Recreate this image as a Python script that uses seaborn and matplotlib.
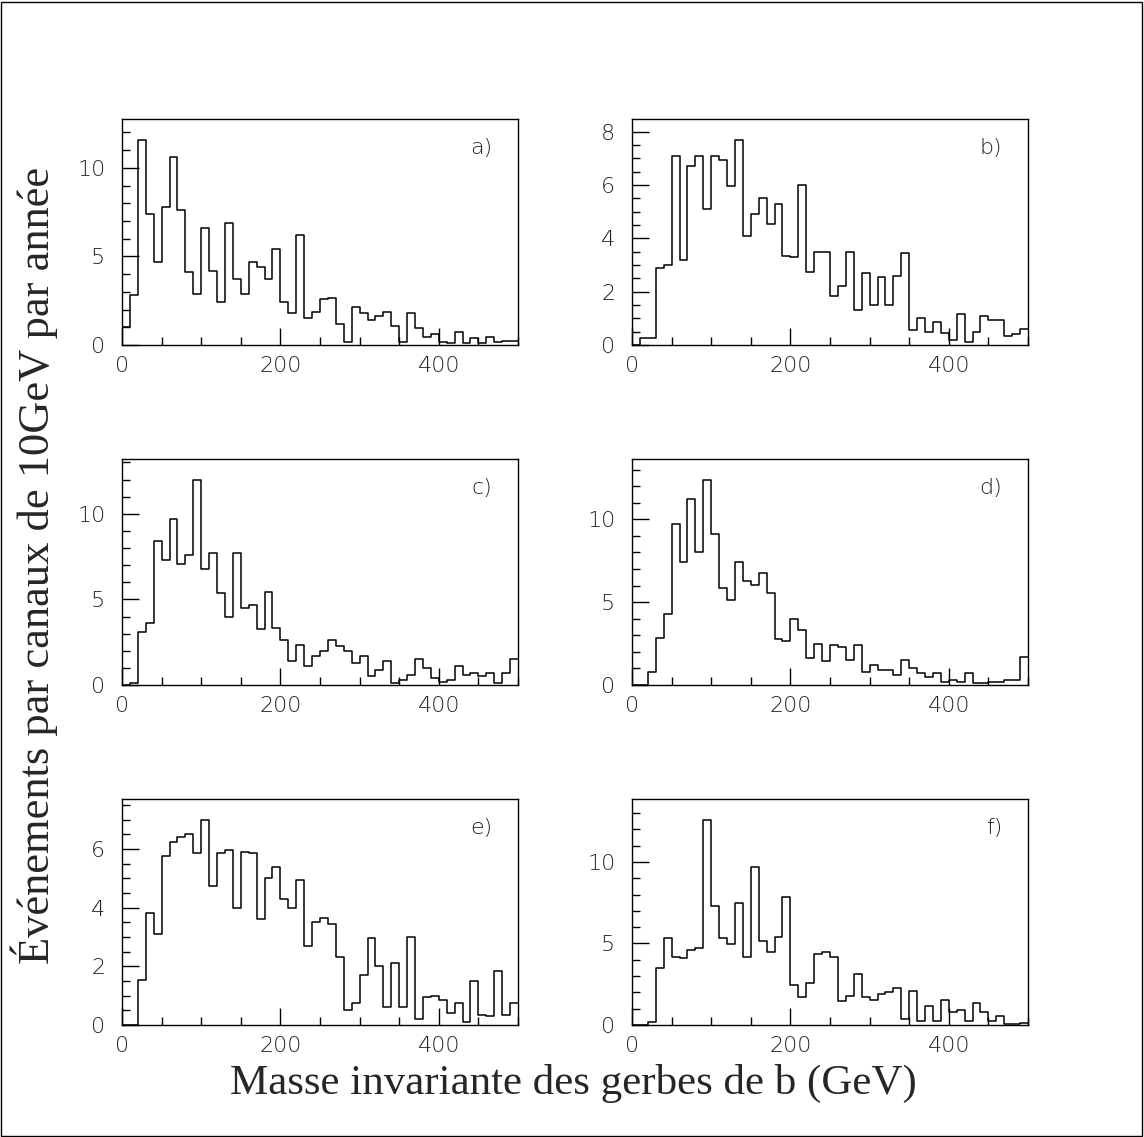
import pandas as pd
import matplotlib
matplotlib.use('Agg')
import matplotlib.pyplot as plt
import seaborn as sns
from matplotlib.patches import Rectangle
from matplotlib.ticker import MultipleLocator

# canaux de 10 GeV entre 0 et 500 GeV
bin_edges = list(range(0, 510, 10))
panel_labels = ['a)', 'b)', 'c)', 'd)', 'e)', 'f)']

hist_a = [1.0, 2.8, 11.6, 7.4, 4.7, 7.8, 10.6, 7.6, 4.1, 2.9,
          6.6, 4.2, 2.4, 6.9, 3.7, 2.9, 4.7, 4.4, 3.7, 5.4,
          2.4, 1.8, 6.2, 1.55, 1.87, 2.6, 2.65, 1.17, 0.15, 2.14,
          1.83, 1.4, 1.63, 1.85, 1.06, 0.15, 1.78, 0.98, 0.43, 0.62,
          0.19, 0.13, 0.76, 0.13, 0.38, 0.1, 0.47, 0.19, 0.25, 0.25]
hist_b = [0.0, 0.26, 0.26, 2.9, 3.0, 7.1, 3.2, 6.7, 7.1, 5.1,
          7.1, 6.95, 5.95, 7.7, 4.1, 4.9, 5.5, 4.55, 5.3, 3.35,
          3.3, 6.0, 2.75, 3.5, 3.5, 1.85, 2.2, 3.5, 1.3, 2.7,
          1.5, 2.55, 1.5, 2.6, 3.45, 0.55, 1.0, 0.5, 0.85, 0.45,
          0.2, 1.15, 0.1, 0.5, 1.1, 0.95, 0.95, 0.35, 0.4, 0.6]
hist_c = [0.0, 0.1, 3.1, 3.6, 8.4, 7.3, 9.7, 7.05, 7.6, 12.0,
          6.8, 7.7, 5.4, 4.0, 7.7, 4.5, 4.7, 3.25, 5.45, 3.35,
          2.6, 1.4, 2.35, 1.1, 1.7, 2.0, 2.6, 2.3, 2.0, 1.3,
          1.7, 0.5, 0.9, 1.4, 0.1, 0.3, 0.6, 1.5, 1.0, 0.4,
          0.2, 0.3, 1.1, 0.6, 0.7, 0.5, 0.7, 0.1, 0.7, 1.5]
hist_d = [0.0, 0.0, 0.77, 2.85, 4.27, 9.7, 7.4, 11.2, 8.0, 12.4,
          9.1, 5.85, 5.15, 7.45, 6.25, 6.05, 6.75, 5.55, 2.75, 2.65,
          4.0, 3.3, 1.65, 2.5, 1.45, 2.4, 2.3, 1.5, 2.4, 0.8,
          1.2, 0.9, 0.9, 0.6, 1.5, 1.0, 0.7, 0.5, 0.7, 0.2,
          0.3, 0.2, 0.7, 0.1, 0.1, 0.2, 0.2, 0.3, 0.3, 1.7]
hist_e = [0.0, 0.0, 1.55, 3.8, 3.1, 5.75, 6.25, 6.4, 6.5, 5.85,
          7.0, 4.75, 5.85, 5.95, 4.0, 5.9, 5.85, 3.6, 5.0, 5.4,
          4.3, 4.0, 4.95, 2.7, 3.5, 3.65, 3.45, 2.3, 0.5, 0.75,
          1.7, 2.95, 2.0, 0.6, 2.1, 0.6, 3.0, 0.2, 0.95, 1.0,
          0.85, 0.4, 0.75, 0.1, 1.5, 0.35, 0.3, 1.85, 0.35, 0.75]
hist_f = [0.0, 0.0, 0.2, 3.5, 5.35, 4.2, 4.1, 4.6, 4.7, 12.6,
          7.3, 5.35, 4.95, 7.5, 4.2, 9.7, 5.15, 4.45, 5.4, 7.85,
          2.45, 1.7, 2.6, 4.35, 4.5, 4.2, 1.45, 1.75, 3.1, 1.7,
          1.55, 1.9, 2.0, 2.25, 0.35, 2.1, 0.25, 1.15, 0.25, 1.55,
          0.8, 0.9, 0.25, 1.35, 0.8, 0.25, 0.55, 0.05, 0.05, 0.15]

histos = [hist_a, hist_b, hist_c, hist_d, hist_e, hist_f]
y_major = [5, 2, 5, 5, 2, 5]
y_minor = [1, 0.5, 1, 1, 0.5, 1]

sns.set_style('ticks')
plt.rcParams['font.family'] = ['DejaVu Sans']
plt.rcParams['font.weight'] = 'light'

W, H = 1144, 1137
fig = plt.figure(figsize=(W / 100, H / 100), dpi=100)

lefts = [122, 632]
tops = [119, 459, 799]
pw, ph = 396, 226

for i, vals in enumerate(histos):
    row, col = divmod(i, 2)
    ax = fig.add_axes([lefts[col] / W, 1 - (tops[row] + ph) / H, pw / W, ph / H])
    df = pd.DataFrame({'masse': [e + 5 for e in bin_edges[:-1]], 'n': vals})
    sns.histplot(data=df, x='masse', weights='n', bins=bin_edges,
                 element='step', fill=False, color='black',
                 linewidth=1.1, ax=ax)
    ax.set_xlim(0, 500)
    ax.set_ylim(0, 1.1 * max(vals))
    ax.set_xlabel('')
    ax.set_ylabel('')
    ax.xaxis.set_major_locator(MultipleLocator(200))
    ax.xaxis.set_minor_locator(MultipleLocator(50))
    ax.yaxis.set_major_locator(MultipleLocator(y_major[i]))
    ax.yaxis.set_minor_locator(MultipleLocator(y_minor[i]))
    ax.tick_params(which='both', direction='in', top=False, right=False,
                   labelsize=16, width=1, color='black', labelcolor='#222222')
    ax.tick_params(which='major', length=12)
    ax.tick_params(which='minor', length=6)
    ax.tick_params(axis='y', pad=12)
    ax.tick_params(axis='x', pad=8)
    for s in ax.spines.values():
        s.set_visible(True)
        s.set_linewidth(1)
        s.set_color('black')
    ax.text(0.935, 0.87, panel_labels[i], transform=ax.transAxes,
            ha='right', va='center', fontsize=16, color='#222222')

fig.text(34 / W, 1 - 565 / H, 'Événements par canaux de 10GeV par année',
         rotation=90, ha='center', va='center', fontsize=32,
         family=['Liberation Serif', 'DejaVu Serif'], weight='normal')
fig.text(573 / W, 1 - 1083 / H, 'Masse invariante des gerbes de b (GeV)',
         ha='center', va='center', fontsize=31,
         family=['Liberation Serif', 'DejaVu Serif'], weight='normal')

fig.patches.append(Rectangle((1 / W, 1 / H), 1 - 3 / W, 1 - 3 / H,
                             transform=fig.transFigure, fill=False,
                             edgecolor='black', linewidth=1))

fig.savefig('out.png', dpi=100)
